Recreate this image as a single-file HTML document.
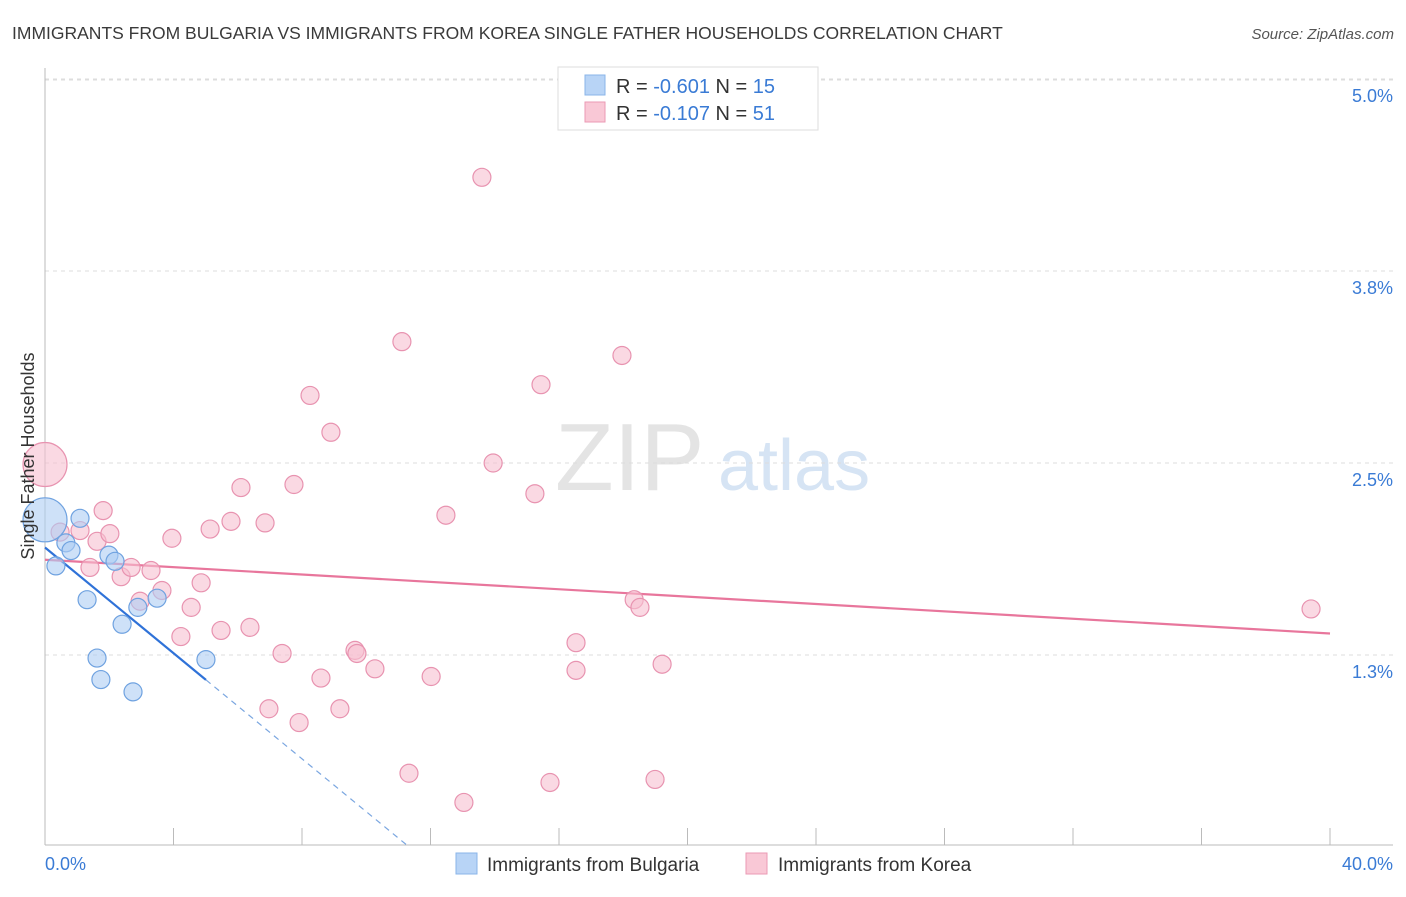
<!DOCTYPE html>
<html><head><meta charset="utf-8"><style>
body{margin:0;background:#fff;font-family:"Liberation Sans",sans-serif;}
svg text{font-family:"Liberation Sans",sans-serif;}
</style></head><body>
<svg id="chart" width="1406" height="892" xmlns="http://www.w3.org/2000/svg">
<text x="12" y="39" font-size="17.5" fill="#3a3a3a">IMMIGRANTS FROM BULGARIA VS IMMIGRANTS FROM KOREA SINGLE FATHER HOUSEHOLDS CORRELATION CHART</text>
<text x="1394" y="39" font-size="15" fill="#555" text-anchor="end" font-style="italic">Source: ZipAtlas.com</text>
<text x="555" y="490" font-size="96" fill="#e4e4e4" font-family="Liberation Serif">ZIP</text>
<text x="718" y="490" font-size="72" fill="#d6e4f4">atlas</text>
<g id="grid"></g>
<g id="axes"></g>
<g id="lines"></g>
<g id="points"></g>
<text transform="translate(34,456) rotate(-90)" font-size="18" fill="#333" text-anchor="middle">Single Father Households</text>
<g>
<rect x="558" y="67" width="260" height="63" fill="#fff" stroke="#ddd"/>
<rect x="585" y="75" width="20" height="20" fill="#b8d4f6" stroke="#8ab4e8"/>
<rect x="585" y="102" width="20" height="20" fill="#f9c8d6" stroke="#eb9ab4"/>
<text x="616" y="93" font-size="20" fill="#333">R = <tspan fill="#3a7bd5">-0.601</tspan>   N = <tspan fill="#3a7bd5">15</tspan></text>
<text x="616" y="120" font-size="20" fill="#333">R = <tspan fill="#3a7bd5">-0.107</tspan>   N = <tspan fill="#3a7bd5">51</tspan></text>
</g>
<g>
<rect x="456" y="853" width="21" height="21" fill="#b8d4f6" stroke="#8ab4e8"/>
<text x="487" y="871" font-size="19" fill="#333">Immigrants from Bulgaria</text>
<rect x="746" y="853" width="21" height="21" fill="#f9c8d6" stroke="#eb9ab4"/>
<text x="778" y="871" font-size="19" fill="#333">Immigrants from Korea</text>
</g>
</svg>
<script>
const yTicks=[1.25,2.5,3.75,5.0];
const yTickLabels=["1.3%","2.5%","3.8%","5.0%"];
const xTickLabels=["0.0%","40.0%"];
const bulgariaX=[0,0.34,0.65,0.81,1.09,1.31,1.62,1.74,1.99,2.18,2.40,2.74,2.89,3.49,5.01];
const bulgariaY=[2.13,1.83,1.98,1.93,2.14,1.61,1.23,1.09,1.90,1.86,1.45,1.01,1.56,1.62,1.22];
const bulgariaR=[22,9,9,9,9,9,9,9,9,9,9,9,9,9,9];
const koreaX=[0,0.47,1.09,1.40,1.62,1.81,2.02,2.37,2.68,2.96,3.30,3.64,3.95,4.23,4.55,4.86,5.14,5.48,5.79,6.10,6.38,6.85,7.38,7.75,6.97,7.91,8.25,8.59,8.90,9.18,9.65,9.71,10.27,11.11,11.33,12.02,12.48,13.04,13.60,13.95,15.25,15.44,15.72,16.53,16.53,17.96,18.34,18.52,18.99,19.21,39.41];
const koreaY=[2.49,2.05,2.06,1.82,1.99,2.19,2.04,1.76,1.82,1.60,1.80,1.67,2.01,1.37,1.56,1.72,2.07,1.41,2.12,2.34,1.43,2.11,1.26,2.36,0.90,0.81,2.94,1.10,2.70,0.90,1.28,1.26,1.16,3.29,0.48,1.11,2.16,0.29,4.36,2.50,2.30,3.01,0.42,1.33,1.15,3.20,1.61,1.56,0.44,1.19,1.55];
const bulgariaTrend=[1.95,-0.172];
const koreaTrend=[1.87,-0.012];
const NS="http://www.w3.org/2000/svg";
const X=v=>45+v*1285/40, Y=v=>847-v*153.6;
function mk(parent,tag,attrs){const e=document.createElementNS(NS,tag);for(const k in attrs)e.setAttribute(k,attrs[k]);document.getElementById(parent).appendChild(e);return e;}
yTicks.forEach((t,i)=>{
 let l=mk('grid','line',{x1:45,x2:1393,y1:Y(t),y2:Y(t),stroke:'#ddd','stroke-dasharray':'4,4'});
 
 
 let tx=mk('grid','text',{x:1393,y:Y(t)+23,'font-size':18,fill:'#3a7bd5','text-anchor':'end'});
 tx.textContent=yTickLabels[i];
 
 
});
let tg=mk('grid','line',{x1:45,x2:1393,y1:80,y2:80,stroke:'#ddd','stroke-dasharray':'4,4'});


let ya=mk('axes','line',{x1:45,x2:45,y1:68,y2:845,stroke:'#bbb'});


let xa=mk('axes','line',{x1:45,x2:1393,y1:845,y2:845,stroke:'#bbb'});


for(let i=1;i<=10;i++){
 let t=mk('axes','line',{x1:X(i*4),x2:X(i*4),y1:828,y2:845,stroke:'#bbb'});
 
 
}
[[0,'start',45],[1,'end',1393]].forEach(([i,a,x])=>{
 let t=mk('axes','text',{x:x,y:870,'font-size':18,fill:'#3a7bd5','text-anchor':a});
 t.textContent=xTickLabels[i];
 
 
});
function drawPts(xs,ys,rs,fill,stroke,name){
 xs.forEach((x,i)=>{
  let c=mk('points','circle',{cx:X(x),cy:Y(ys[i]),r:rs?rs[i]:9,fill:fill,stroke:stroke,'stroke-width':1.2,'fill-opacity':0.6});
  
  
 });
}
const koreaR=koreaX.map((x,i)=>i===0?22:9);
drawPts(koreaX,koreaY,koreaR,'#f7bfd0','#e893b0','korea-point');
drawPts(bulgariaX,bulgariaY,bulgariaR,'#aecdf4','#6fa2e0','bulgaria-point');
const bEnd=5.01, bZero=-bulgariaTrend[0]/bulgariaTrend[1];
let b1=mk('lines','line',{x1:X(0),y1:Y(bulgariaTrend[0]),x2:X(bEnd),y2:Y(bulgariaTrend[0]+bulgariaTrend[1]*bEnd),stroke:'#2f72d8','stroke-width':2.2});


let b2=mk('lines','line',{x1:X(bEnd),y1:Y(bulgariaTrend[0]+bulgariaTrend[1]*bEnd),x2:X(bZero),y2:Y(0),stroke:'#7aa6e0','stroke-width':1.2,'stroke-dasharray':'6,5'});


let k1=mk('lines','line',{x1:X(0),y1:Y(koreaTrend[0]),x2:X(40),y2:Y(koreaTrend[0]+koreaTrend[1]*40),stroke:'#e8769c','stroke-width':2.2});


</script>
</body></html>
